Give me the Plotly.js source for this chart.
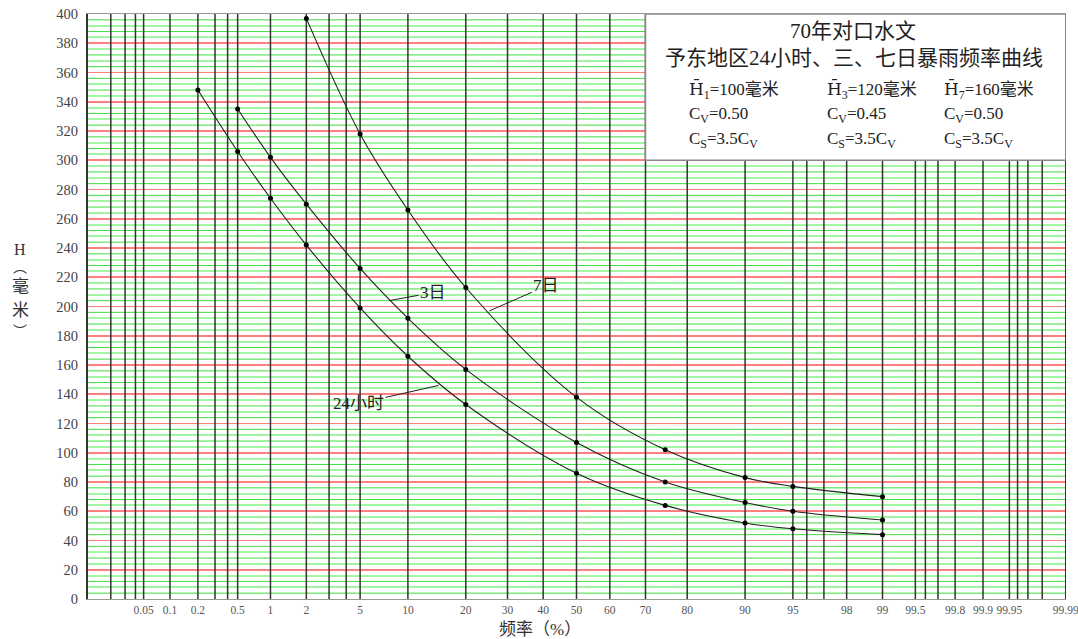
<!DOCTYPE html>
<html>
<head>
<meta charset="utf-8">
<script src="https://cdn.plot.ly/plotly-3.0.1.min.js"></script>
<style>html,body{margin:0;padding:0;background:#fff;}#chart{width:1078px;height:639px;}</style>
</head>
<body>
<div id="chart"></div>
<script>
// ---- data (frequency in %, rainfall H in mm) ----
const freq24 = [0.2, 0.5, 1, 2, 5, 10, 20, 50, 75, 90, 95, 99];
const h24    = [348, 306, 274, 242, 199, 166, 133, 86, 64, 52, 48, 44];
const freq3  = [0.5, 1, 2, 5, 10, 20, 50, 75, 90, 95, 99];
const h3     = [335, 302, 270, 226, 192, 157, 107, 80, 66, 60, 54];
const freq7  = [2, 5, 10, 20, 50, 75, 90, 95, 99];
const h7     = [397, 318, 266, 213, 138, 102, 83, 77, 70];

const xLabelProbs = [0.05, 0.1, 0.2, 0.5, 1, 2, 5, 10, 20, 30, 40, 50, 60, 70, 80, 90, 95, 98, 99, 99.5, 99.8, 99.9, 99.95, 99.99];
const xLabelText  = ["0.05","0.1","0.2","0.5","1","2","5","10","20","30","40","50","60","70","80","90","95","98","99","99.5","99.8","99.9","99.95","99.99"];
const xGridProbs  = [0.01, 0.02, 0.03, 0.04, 0.05, 0.1, 0.2, 0.3, 0.4, 0.5, 1, 2, 3, 4, 5, 10, 20, 30, 40, 50, 60, 70, 80, 90, 95, 96, 97, 98, 99, 99.5, 99.6, 99.7, 99.8, 99.9, 99.95, 99.96, 99.97, 99.98, 99.99];

// ---- probability-paper scale: inverse standard normal CDF ----
function probit(pct) {
  const p = pct / 100;
  const a = [-3.969683028665376e+01, 2.209460984245205e+02, -2.759285104469687e+02, 1.383577518672690e+02, -3.066479806614716e+01, 2.506628277459239e+00];
  const b = [-5.447609879822406e+01, 1.615858368580409e+02, -1.556989798598866e+02, 6.680131188771972e+01, -1.328068155288572e+01];
  const c = [-7.784894002430293e-03, -3.223964580411365e-01, -2.400758277161838e+00, -2.549732539343734e+00, 4.374664141464968e+00, 2.938163982698783e+00];
  const d = [7.784695709041462e-03, 3.224671290700398e-01, 2.445134137142996e+00, 3.754408661907416e+00];
  const pl = 0.02425, ph = 1 - pl;
  let q, r;
  if (p < pl) {
    q = Math.sqrt(-2 * Math.log(p));
    return (((((c[0]*q+c[1])*q+c[2])*q+c[3])*q+c[4])*q+c[5]) / ((((d[0]*q+d[1])*q+d[2])*q+d[3])*q+1);
  } else if (p <= ph) {
    q = p - 0.5; r = q*q;
    return (((((a[0]*r+a[1])*r+a[2])*r+a[3])*r+a[4])*r+a[5])*q / (((((b[0]*r+b[1])*r+b[2])*r+b[3])*r+b[4])*r+1);
  } else {
    q = Math.sqrt(-2 * Math.log(1 - p));
    return -(((((c[0]*q+c[1])*q+c[2])*q+c[3])*q+c[4])*q+c[5]) / ((((d[0]*q+d[1])*q+d[2])*q+d[3])*q+1);
  }
}

function series(fr, h) {
  return {
    x: fr.map(probit), y: h, type: 'scatter', mode: 'lines+markers',
    line: {color: '#222', width: 1.1, shape: 'spline', smoothing: 1},
    marker: {color: '#000', size: 5},
    hoverinfo: 'skip', showlegend: false
  };
}

const traces = [series(freq24, h24), series(freq3, h3), series(freq7, h7)];

const font = '"Liberation Serif", "Noto Sans CJK SC", serif';
const serif = '"Liberation Serif", "DejaVu Serif", serif';
const pxX = px => (px - 87) / 979;
const pxY = py => (599 - py) / 585;
const ink = '#222';

function boxText(px, py, text, size) {
  return {xref:'paper', yref:'paper', x:pxX(px), y:pxY(py), text:text, showarrow:false,
          font:{family:font, size:size, color:ink}, xanchor:'left', yanchor:'middle'};
}
const hbar = n => '<span style="font-family:DejaVu Serif">H\u0304</span><sub>' + n + '</sub>';

const annotations = [
  {xref:'paper', yref:'paper', x:pxX(853), y:pxY(31), text:'70年对口水文', showarrow:false,
   font:{family:font, size:21, color:ink}, xanchor:'center', yanchor:'middle'},
  {xref:'paper', yref:'paper', x:pxX(854), y:pxY(58), text:'予东地区24小时、三、七日暴雨频率曲线', showarrow:false,
   font:{family:font, size:21, color:ink}, xanchor:'center', yanchor:'middle'},
  boxText(687, 90, hbar(1) + '=100毫米', 17),
  boxText(825, 90, hbar(3) + '=120毫米', 17),
  boxText(942, 90, hbar(7) + '=160毫米', 17),
  boxText(687, 115, 'C<sub>V</sub>=0.50', 17),
  boxText(825, 115, 'C<sub>V</sub>=0.45', 17),
  boxText(942, 115, 'C<sub>V</sub>=0.50', 17),
  boxText(687, 140, 'C<sub>S</sub>=3.5C<sub>V</sub>', 17),
  boxText(825, 140, 'C<sub>S</sub>=3.5C<sub>V</sub>', 17),
  boxText(942, 140, 'C<sub>S</sub>=3.5C<sub>V</sub>', 17),
  // curve labels with leader lines
  {x:probit(7.7), y:204, ax:44, ay:-8, text:'3日', showarrow:true, arrowhead:0, arrowwidth:1, arrowcolor:ink,
   font:{family:font, size:17, color:ink}},
  {x:probit(25.4), y:197, ax:57, ay:-25, text:'7日', showarrow:true, arrowhead:0, arrowwidth:1, arrowcolor:ink,
   font:{family:font, size:17, color:ink}},
  {x:probit(14.7), y:146, ax:-80, ay:18, text:'24小时', showarrow:true, arrowhead:0, arrowwidth:1, arrowcolor:ink,
   font:{family:font, size:17, color:ink}},
  // axis titles
  {xref:'paper', yref:'paper', x:pxX(20), y:pxY(249), text:'H', showarrow:false, font:{family:font, size:16, color:'#333'}, xanchor:'center', yanchor:'middle'},
  {xref:'paper', yref:'paper', x:pxX(20), y:pxY(266), text:'︵', showarrow:false, font:{family:'"Noto Sans CJK SC"', size:14, color:'#333'}, xanchor:'center', yanchor:'middle'},
  {xref:'paper', yref:'paper', x:pxX(20), y:pxY(286), text:'毫', showarrow:false, font:{family:font, size:17, color:'#333'}, xanchor:'center', yanchor:'middle'},
  {xref:'paper', yref:'paper', x:pxX(20), y:pxY(310), text:'米', showarrow:false, font:{family:font, size:17, color:'#333'}, xanchor:'center', yanchor:'middle'},
  {xref:'paper', yref:'paper', x:pxX(20), y:pxY(330), text:'︶', showarrow:false, font:{family:'"Noto Sans CJK SC"', size:14, color:'#333'}, xanchor:'center', yanchor:'middle'},
  {xref:'paper', yref:'paper', x:pxX(540), y:pxY(629), text:'频率（%）', showarrow:false,
   font:{family:font, size:17, color:'#333'}, xanchor:'center', yanchor:'middle'}
];

const shapes = [];
// brighter thin green rulings at every 8k+4 (the paler ones come from the minor grid)
for (let v = 4; v < 400; v += 8) {
  if (v % 20 === 0) continue;
  shapes.push({type:'line', xref:'paper', yref:'y', x0:0, x1:1, y0:v, y1:v,
               line:{color:'#3fdc3f', width:1}, layer:'between'});
}
// vertical probability-paper grid lines drawn over the horizontal grid
xGridProbs.forEach(p => shapes.push({
  type:'line', xref:'x', yref:'y', x0:probit(p), x1:probit(p), y0:0, y1:400,
  line:{color:'#333', width:1.5}, layer:'between'
}));
shapes.push({type:'rect', xref:'x', yref:'y', x0:probit(70), x1:probit(99.99), y0:300, y1:400,
   fillcolor:'#fff', line:{color:'#888', width:1.5}, layer:'above'});

const eps = 0.002;
const layout = {
  width: 1078, height: 639,
  margin: {l: 87, r: 12, t: 14, b: 40},
  paper_bgcolor: '#fff', plot_bgcolor: '#fff',
  showlegend: false,
  xaxis: {
    range: [probit(0.01) - eps, probit(99.99) + eps],
    tickmode: 'array', tickvals: xLabelProbs.map(probit), ticktext: xLabelText,
    showgrid: false, ticklabeloverflow: 'allow',
    zeroline: false, showline: true, linecolor: '#999', mirror: true,
    ticks: '', tickfont: {family: serif, size: 11.5, color: '#555'},
    fixedrange: true
  },
  yaxis: {
    range: [0, 400], tickmode: 'linear', tick0: 0, dtick: 20,
    showgrid: true, gridcolor: '#ff7f7f', gridwidth: 1.8,
    minor: {tick0: 0, dtick: 8, showgrid: true, gridcolor: '#a2f5a2', gridwidth: 2},
    zeroline: false, showline: true, linecolor: '#333', mirror: false,
    ticks: 'outside', ticklen: 5, tickcolor: 'rgba(0,0,0,0)',
    tickfont: {family: serif, size: 14.5, color: '#444'},
    fixedrange: true
  },
  annotations: annotations,
  shapes: shapes
};

Plotly.newPlot('chart', traces, layout, {displayModeBar: false, staticPlot: true});
</script>
</body>
</html>
